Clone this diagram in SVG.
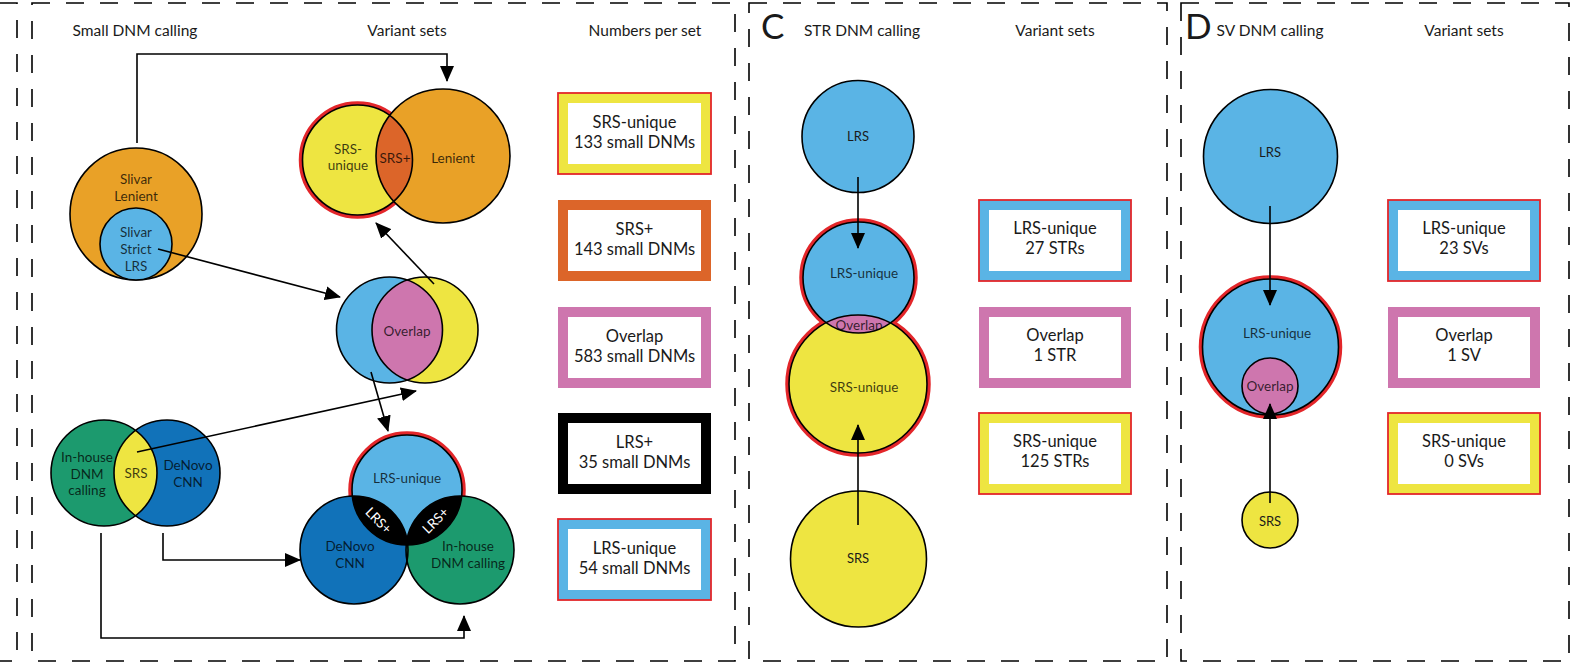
<svg xmlns="http://www.w3.org/2000/svg" width="1571" height="666" viewBox="0 0 1571 666">
<style>
text{font-family:Lato,"Open Sans","Liberation Sans",sans-serif;fill:#1a1a1a;text-anchor:middle}
.h{font-size:15.5px}
.big{font-size:35px;text-anchor:start}
.lbl{font-size:13.5px;fill:#000;fill-opacity:0.75}
.sm{font-size:13px}
.bx{font-size:16.5px}
.wt{font-size:13.5px;fill:#fff}
.dash{fill:none;stroke:#000;stroke-width:1.6;stroke-dasharray:18 16}
.ol{stroke:#000;stroke-width:1.6}
.red{fill:none;stroke:#E3262A;stroke-width:4.5}
.con{fill:none;stroke:#000;stroke-width:1.6}
.or{fill:#E9A127}.ye{fill:#EEE541}.lb{fill:#5AB4E5}.db{fill:#1172B9}.gr{fill:#1C9A6E}.pk{fill:#CE76AE}.do{fill:#DC6529}
</style>
<defs>
<marker id="ah" viewBox="0 0 16 14" refX="15" refY="7" markerWidth="16" markerHeight="14" markerUnits="userSpaceOnUse" orient="auto"><path d="M0,0 L16,7 L0,14 z" fill="#000"/></marker>
<clipPath id="cSrsU"><circle cx="357.5" cy="160" r="55"/></clipPath>
<clipPath id="cOvB"><circle cx="389.5" cy="330" r="53"/></clipPath>
<clipPath id="cTop"><circle cx="407" cy="490" r="55"/></clipPath>
<clipPath id="cGreen"><circle cx="104" cy="473" r="53"/></clipPath>
<clipPath id="cCblue"><circle cx="858.5" cy="277.5" r="55.5"/></clipPath>
</defs>

<g id="panels">
<path class="dash" d="M0,3 H17 V661 H0"/>
<rect class="dash" x="32" y="3" width="703" height="658"/>
<rect class="dash" x="749" y="3" width="418" height="658"/>
<rect class="dash" x="1181" y="3" width="388" height="658"/>
</g>

<g id="headings">
<text class="h" x="135" y="36">Small DNM calling</text>
<text class="h" x="407" y="36">Variant sets</text>
<text class="h" x="645" y="36">Numbers per set</text>
<text class="big" x="761" y="39">C</text>
<text class="h" x="862" y="36">STR DNM calling</text>
<text class="h" x="1055" y="36">Variant sets</text>
<text class="big" x="1185" y="39">D</text>
<text class="h" x="1270" y="36">SV DNM calling</text>
<text class="h" x="1464" y="36">Variant sets</text>
</g>

<g id="slivar">
<circle class="or ol" cx="136" cy="214" r="66"/>
<text class="lbl" x="136" y="184">Slivar</text>
<text class="lbl" x="136" y="201">Lenient</text>
<circle class="lb ol" cx="136" cy="244" r="36"/>
<text class="lbl" x="136" y="237">Slivar</text>
<text class="lbl" x="136" y="254">Strict</text>
<text class="lbl" x="136" y="271">LRS</text>
</g>

<g id="srs-venn-left">
<circle class="gr" cx="104" cy="473" r="53"/>
<circle class="db" cx="167" cy="473" r="53"/>
<circle class="ye" cx="167" cy="473" r="53" clip-path="url(#cGreen)"/>
<circle cx="104" cy="473" r="53" fill="none" class="ol"/>
<circle cx="167" cy="473" r="53" fill="none" class="ol"/>
<text class="lbl" x="87" y="462">In-house</text>
<text class="lbl" x="87" y="479">DNM</text>
<text class="lbl" x="87" y="495">calling</text>
<text class="lbl" x="136" y="478">SRS</text>
<text class="lbl" x="188" y="470">DeNovo</text>
<text class="lbl" x="188" y="487">CNN</text>
</g>

<g id="venn-srs-lenient">
<circle class="red" cx="357.5" cy="160" r="56.5"/>
<circle class="ye" cx="357.5" cy="160" r="55"/>
<circle class="or" cx="443" cy="156" r="67"/>
<circle class="do" cx="443" cy="156" r="67" clip-path="url(#cSrsU)"/>
<circle cx="357.5" cy="160" r="55" fill="none" class="ol"/>
<circle cx="443" cy="156" r="67" fill="none" class="ol"/>
<text class="lbl" x="348" y="154">SRS-</text>
<text class="lbl" x="348" y="170">unique</text>
<text class="lbl" x="395" y="163">SRS+</text>
<text class="lbl" x="453" y="163">Lenient</text>
</g>

<g id="venn-overlap">
<circle class="lb" cx="389.5" cy="330" r="53"/>
<circle class="ye" cx="425" cy="330" r="53"/>
<circle class="pk" cx="425" cy="330" r="53" clip-path="url(#cOvB)"/>
<circle cx="389.5" cy="330" r="53" fill="none" class="ol"/>
<circle cx="425" cy="330" r="53" fill="none" class="ol"/>
<text class="lbl" x="407" y="336">Overlap</text>
</g>

<g id="venn-lrs">
<circle class="red" cx="407" cy="490" r="56.5"/>
<circle class="lb" cx="407" cy="490" r="55"/>
<circle class="db" cx="354" cy="550" r="54"/>
<circle class="gr" cx="460" cy="550" r="54"/>
<circle fill="#000" cx="354" cy="550" r="54" clip-path="url(#cTop)"/>
<circle fill="#000" cx="460" cy="550" r="54" clip-path="url(#cTop)"/>
<circle cx="407" cy="490" r="55" fill="none" class="ol"/>
<circle cx="354" cy="550" r="54" fill="none" class="ol"/>
<circle cx="460" cy="550" r="54" fill="none" class="ol"/>
<text class="lbl" x="407" y="483">LRS-unique</text>
<text class="wt" transform="translate(378,521) rotate(45)" y="4">LRS+</text>
<text class="wt" transform="translate(436,521) rotate(-45)" y="4">LRS+</text>
<text class="lbl" x="350" y="551">DeNovo</text>
<text class="lbl" x="350" y="568">CNN</text>
<text class="lbl" x="468" y="551">In-house</text>
<text class="lbl" x="468" y="568">DNM calling</text>
</g>

<g id="boxes-small">
<g id="box-srs-unique">
<rect x="558" y="93" width="153" height="81" fill="#EEE541" stroke="#E3262A" stroke-width="1.8"/>
<rect x="568" y="103" width="133" height="61" fill="#fff"/>
<text class="bx" x="634.5" y="128">SRS-unique</text>
<text class="bx" x="634.5" y="148">133 small DNMs</text>
</g>
<g id="box-srs-plus">
<rect x="558" y="200" width="153" height="81" fill="#DC6529"/>
<rect x="568" y="210" width="133" height="61" fill="#fff"/>
<text class="bx" x="634.5" y="235">SRS+</text>
<text class="bx" x="634.5" y="255">143 small DNMs</text>
</g>
<g id="box-overlap">
<rect x="558" y="307" width="153" height="81" fill="#CE76AE"/>
<rect x="568" y="317" width="133" height="61" fill="#fff"/>
<text class="bx" x="634.5" y="342">Overlap</text>
<text class="bx" x="634.5" y="362">583 small DNMs</text>
</g>
<g id="box-lrs-plus">
<rect x="558" y="413" width="153" height="81" fill="#000"/>
<rect x="568" y="423" width="133" height="61" fill="#fff"/>
<text class="bx" x="634.5" y="448">LRS+</text>
<text class="bx" x="634.5" y="468">35 small DNMs</text>
</g>
<g id="box-lrs-unique">
<rect x="558" y="519" width="153" height="81" fill="#5AB4E5" stroke="#E3262A" stroke-width="1.8"/>
<rect x="568" y="529" width="133" height="61" fill="#fff"/>
<text class="bx" x="634.5" y="554">LRS-unique</text>
<text class="bx" x="634.5" y="574">54 small DNMs</text>
</g>
</g>

<g id="str-lrs">
<circle class="lb ol" cx="858" cy="136.5" r="56"/>
<text class="sm" x="858" y="141">LRS</text>
</g>
<g id="str-sets">
<circle class="red" cx="858.5" cy="277.5" r="57"/>
<circle class="red" cx="858" cy="384" r="70.5"/>
<circle class="lb" cx="858.5" cy="277.5" r="55.5"/>
<circle class="ye" cx="858" cy="384" r="69"/>
<circle class="pk" cx="858" cy="384" r="69" clip-path="url(#cCblue)"/>
<g clip-path="url(#cCblue)"><text class="lbl" x="859" y="330">Overlap</text></g>
<circle cx="858.5" cy="277.5" r="55.5" fill="none" class="ol"/>
<circle cx="858" cy="384" r="69" fill="none" class="ol"/>
<text class="lbl" x="864" y="278">LRS-unique</text>
<text class="lbl" x="864" y="392">SRS-unique</text>
</g>
<g id="str-srs">
<circle class="ye ol" cx="858.5" cy="559" r="68"/>
<text class="sm" x="858" y="563">SRS</text>
</g>
<g id="boxes-str">
<rect x="979" y="200" width="152" height="81" fill="#5AB4E5" stroke="#E3262A" stroke-width="1.8"/>
<rect x="989" y="210" width="132" height="61" fill="#fff"/>
<text class="bx" x="1055" y="234">LRS-unique</text>
<text class="bx" x="1055" y="254">27 STRs</text>
<rect x="979" y="307" width="152" height="81" fill="#CE76AE"/>
<rect x="989" y="317" width="132" height="61" fill="#fff"/>
<text class="bx" x="1055" y="341">Overlap</text>
<text class="bx" x="1055" y="361">1 STR</text>
<rect x="979" y="413" width="152" height="81" fill="#EEE541" stroke="#E3262A" stroke-width="1.8"/>
<rect x="989" y="423" width="132" height="61" fill="#fff"/>
<text class="bx" x="1055" y="447">SRS-unique</text>
<text class="bx" x="1055" y="467">125 STRs</text>
</g>

<g id="sv-lrs">
<circle class="lb ol" cx="1270.5" cy="156.5" r="67"/>
<text class="sm" x="1270" y="157">LRS</text>
</g>
<g id="sv-sets">
<circle class="red" cx="1270.5" cy="347" r="69.5"/>
<circle class="lb ol" cx="1270.5" cy="347" r="68"/>
<text class="lbl" x="1277" y="338">LRS-unique</text>
<circle class="pk ol" cx="1270" cy="386" r="28"/>
<text class="lbl" x="1270" y="391">Overlap</text>
</g>
<g id="sv-srs">
<circle class="ye ol" cx="1270" cy="520" r="28"/>
<text class="sm" x="1270" y="526">SRS</text>
</g>
<g id="boxes-sv">
<rect x="1388" y="200" width="152" height="81" fill="#5AB4E5" stroke="#E3262A" stroke-width="1.8"/>
<rect x="1398" y="210" width="132" height="61" fill="#fff"/>
<text class="bx" x="1464" y="234">LRS-unique</text>
<text class="bx" x="1464" y="254">23 SVs</text>
<rect x="1388" y="307" width="152" height="81" fill="#CE76AE"/>
<rect x="1398" y="317" width="132" height="61" fill="#fff"/>
<text class="bx" x="1464" y="341">Overlap</text>
<text class="bx" x="1464" y="361">1 SV</text>
<rect x="1388" y="413" width="152" height="81" fill="#EEE541" stroke="#E3262A" stroke-width="1.8"/>
<rect x="1398" y="423" width="132" height="61" fill="#fff"/>
<text class="bx" x="1464" y="447">SRS-unique</text>
<text class="bx" x="1464" y="467">0 SVs</text>
</g>

<g id="connectors">
<path class="con" marker-end="url(#ah)" d="M137,143 V54 H447 V81"/>
<path class="con" marker-end="url(#ah)" d="M158,249 L340,297"/>
<path class="con" marker-end="url(#ah)" d="M434,284 L376,223"/>
<path class="con" marker-end="url(#ah)" d="M371,372 L388,431"/>
<path class="con" marker-end="url(#ah)" d="M137,452 L416,391"/>
<path class="con" marker-end="url(#ah)" d="M163,533 V560 H300"/>
<path class="con" marker-end="url(#ah)" d="M101,533 V638 H464 V616"/>
<path class="con" marker-end="url(#ah)" d="M858,177 V248"/>
<path class="con" marker-end="url(#ah)" d="M858,525 V425"/>
<path class="con" marker-end="url(#ah)" d="M1270,206 V305"/>
<path class="con" marker-end="url(#ah)" d="M1270,503 V404"/>
</g>
</svg>
